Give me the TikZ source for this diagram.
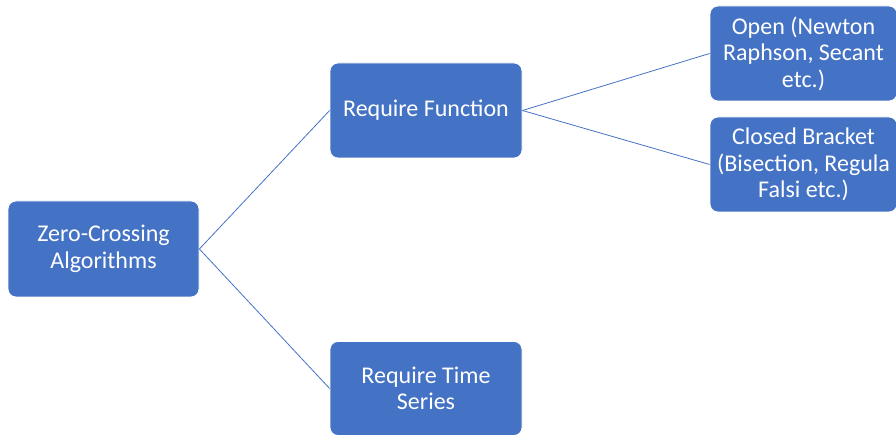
\documentclass[tikz,border=0pt]{standalone}
\usepackage{fontspec}
\setmainfont{Carlito}
\definecolor{boxblue}{HTML}{4472C4}
\begin{document}
\begin{tikzpicture}[x=1pt,y=-1pt,
  box/.style={draw=white,line width=0.8pt,fill=boxblue,rounded corners=8pt,
    text=white,align=center,inner sep=0pt,
    font=\fontsize{24}{26.5}\selectfont},
  link/.style={draw=boxblue,line width=0.8pt}]
\useasboundingbox (0,0) rectangle (896,435);
\node[box,minimum width=191,minimum height=96] (zc) at (103.5,249) {Zero-Crossing\\Algorithms};
\node[box,minimum width=192,minimum height=95] (rf) at (426,110.5) {Require Function};
\node[box,minimum width=192,minimum height=94] (rt) at (426,388.5) {Require Time\\Series};
\node[box,minimum width=187,minimum height=95] (op) at (803.5,53.5) {Open (Newton\\Raphson, Secant\\etc.)};
\node[box,minimum width=187,minimum height=95] (cb) at (803.5,164.5) {Closed Bracket\\(Bisection, Regula\\Falsi etc.)};
\draw[link] (zc.east) -- (rf.west);
\draw[link] (zc.east) -- (rt.west);
\draw[link] (rf.east) -- (op.west);
\draw[link] (rf.east) -- (cb.west);
\end{tikzpicture}
\end{document}
